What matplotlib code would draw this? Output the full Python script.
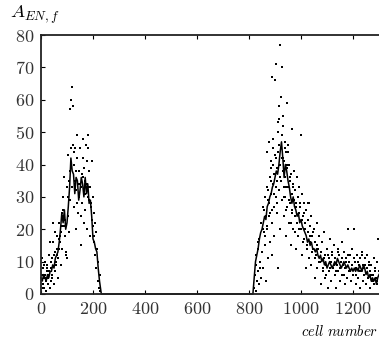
import matplotlib
matplotlib.use("Agg")
import matplotlib.pyplot as plt
import numpy as np

# running curve (cell number, amplitude)
line_x = [0, 5, 10, 15, 20, 25, 30, 35, 40, 45, 50, 55, 60, 65, 70, 75, 80, 85, 90, 95,
          100, 105, 110, 115, 120, 125, 130, 135, 140, 145, 150, 155, 160, 165, 170, 175,
          180, 185, 190, 195, 200, 205, 210, 215, 220, 225, 232,
          815, 820, 825, 830, 835, 840, 845, 850, 855, 860, 865, 870, 875, 880, 885, 890,
          895, 900, 905, 910, 915, 920, 925, 930, 935, 940, 945, 950, 955, 960, 965, 970,
          975, 980, 985, 990, 995, 1000, 1005, 1010, 1015, 1020, 1025, 1030, 1035, 1040,
          1045, 1050, 1055, 1060, 1065, 1070, 1075, 1080, 1085, 1090, 1095, 1100, 1105,
          1110, 1115, 1120, 1125, 1130, 1135, 1140, 1145, 1150, 1155, 1160, 1165, 1170,
          1175, 1180, 1185, 1190, 1195, 1200, 1205, 1210, 1215, 1220, 1225, 1230, 1235,
          1240, 1245, 1250, 1255, 1260, 1265, 1270, 1275, 1280, 1285, 1290, 1295, 1300]
line_y = [5, 4, 6, 5, 4, 6, 5, 7, 7, 9, 8, 11, 12, 13, 16, 20, 25, 22, 26, 20,
          22, 27, 33, 42, 38, 37, 31, 36, 35, 29, 32, 36, 34, 30, 36, 31,
          34, 28, 29, 24, 17, 16, 14, 13, 8, 4, 0,
          0, 5, 10, 12, 14, 17, 19, 20, 22, 24, 23, 27, 28, 30, 31, 33,
          34, 36, 38, 37, 40, 44, 47, 42, 36, 40, 38, 35, 33, 30, 28, 30,
          27, 26, 24, 25, 22, 23, 21, 20, 19, 18, 16, 17, 15, 16,
          14, 14, 13, 14, 12, 11, 12, 10, 11, 9, 10, 8, 9,
          10, 9, 8, 9, 10, 9, 11, 10, 9, 8, 9, 10, 9,
          8, 9, 8, 7, 8, 7, 8, 7, 8, 7, 9, 8, 7,
          9, 8, 6, 7, 5, 6, 4, 5, 4, 5, 3, 5, 6]

# single-cell values (dots)
dot_x = [2, 6, 8, 10, 12, 14, 16, 18, 20, 22, 24, 26, 28, 30, 32, 34, 35, 38, 40, 42,
         44, 46, 47, 50, 52, 54, 55, 58, 60, 63, 66, 68, 69, 70, 72, 75, 78, 80, 82, 83,
         85, 87, 90, 92, 95, 97, 99, 100, 102, 105, 107, 110, 111, 112, 114, 116, 118,
         120, 122, 124, 126, 128, 130, 131, 134, 136, 138, 140, 142, 145, 148, 150, 152,
         155, 158, 160, 162, 164, 166, 168, 170, 173, 175, 176, 178, 180, 182, 184, 186,
         188, 190, 192, 195, 197, 199, 200, 203, 205, 207, 210, 212, 215, 218, 220, 222,
         225, 228,
         4, 9, 13, 19, 23, 27, 31, 37, 43, 49, 57, 62, 67, 74, 79, 86, 93, 103, 109,
         117, 127, 133, 139, 147, 153, 157, 163, 171, 179, 185, 193, 202, 209,
         818, 822, 825, 828, 830, 833, 835, 838, 840, 842, 845, 847, 850, 852, 855, 857,
         860, 862, 864, 866, 868, 870, 871, 872, 874, 876, 878, 879, 880, 882, 883, 885,
         886, 888, 889, 890, 891, 893, 894, 895, 897, 898, 900, 902, 904, 905, 907, 908,
         910, 911, 912, 913, 914, 915, 917, 918, 919, 920, 921, 922, 924, 925, 927, 928,
         929, 931, 931, 932, 934, 935, 936, 937, 938, 940, 942, 943, 945, 946, 947, 949,
         950, 951, 953, 955, 956, 958, 960, 962, 964, 966, 967, 969, 970, 972, 974, 976,
         978, 980, 982, 984, 986, 988, 990, 992, 994, 996, 999, 1000, 1002, 1005, 1007,
         1010, 1012, 1015, 1018, 1020, 1022, 1025, 1028, 1030, 1031, 1033, 1036, 1038,
         1040, 1043, 1046, 1049, 1052, 1055, 1058, 1060, 1063, 1066, 1069, 1072, 1075,
         1078, 1081, 1084, 1087, 1090, 1093, 1096, 1099, 1102, 1105, 1108, 1111, 1114,
         1117, 1120, 1123, 1126, 1129, 1132, 1135, 1138, 1141, 1144, 1147, 1150, 1153,
         1156, 1159, 1162, 1165, 1168, 1171, 1174, 1177, 1180, 1183, 1186, 1189, 1192,
         1195, 1198, 1201, 1204, 1207, 1210, 1213, 1216, 1219, 1222, 1225, 1228, 1231,
         1234, 1237, 1240, 1243, 1246, 1249, 1252, 1255, 1258, 1261, 1264, 1267, 1270,
         1273, 1276, 1279, 1282, 1285, 1288, 1291, 1294, 1297, 1299,
         826, 836, 844, 853, 858, 863, 869, 873, 877, 884, 887, 892, 896, 899, 903, 906,
         909, 916, 923, 926, 933, 939, 941, 944, 948, 952, 957, 961, 965, 971, 975, 979,
         983, 987, 991, 995, 1003, 1008, 1013, 1017, 1024, 1027, 1034, 1041, 1047, 1054,
         1062, 1068, 1076, 1083, 1091, 1098, 1106, 1113, 1121, 1128, 1136, 1143, 1151,
         1158, 1166, 1173, 1181, 1188, 1196, 1203, 1211, 1218, 1226, 1233, 1241, 1248,
         1256, 1263, 1271, 1278, 1286, 1293]
dot_y = [11, 3, 8, 5, 2, 10, 6, 4, 1, 7, 9, 3, 5, 12, 6, 2, 16, 8, 4, 11,
         6, 16, 22, 3, 13, 19, 7, 10, 18, 12, 5, 14, 17, 22, 16, 9, 19, 25, 14, 24,
         30, 21, 36, 18, 13, 12, 11, 33, 24, 43, 19, 38, 57, 29, 60, 45, 64,
         33, 58, 46, 40, 27, 35, 45, 20, 32, 42, 49, 25, 38, 30, 45, 15,
         33, 28, 48, 36, 22, 39, 31, 26, 46, 34, 41, 20, 45, 49, 29, 38,
         18, 33, 27, 23, 41, 30, 21, 16, 25, 12, 19, 8, 14, 4, 10, 2,
         6, 1,
         6, 2, 9, 5, 8, 3, 7, 10, 5, 12, 9, 14, 11, 18, 21, 26, 23, 30, 35,
         40, 44, 38, 28, 34, 24, 37, 42, 35, 30, 33, 28, 18, 22,
         2, 6, 1, 9, 4, 14, 7, 3, 17, 10, 5, 22, 13, 27, 8, 19,
         30, 15, 24, 4, 33, 20, 44, 11, 29, 28, 47, 36, 16, 25, 41, 39,
         31, 67, 12, 22, 45, 34, 48, 27, 37, 18, 66, 30, 42, 71, 25, 35,
         53, 8, 44, 50, 58, 32, 54, 40, 77, 20, 36, 45, 61, 29, 49, 70,
         38, 52, 55, 42, 33, 41, 24, 47, 36, 30, 44, 18, 39, 59, 27, 46,
         44, 33, 22, 40, 35, 28, 37, 15, 31, 26, 51, 34, 20, 29, 38, 24,
         32, 14, 27, 36, 22, 30, 18, 33, 25, 28, 49, 20, 31, 12, 24,
         28, 17, 22, 8, 26, 15, 19, 28, 11, 28, 21, 16, 24,
         9, 18, 14, 20, 5, 16, 12, 22, 8, 14, 18, 10, 3,
         13, 16, 7, 11, 19, 5, 9, 14, 2, 12, 7, 17, 10,
         4, 13, 8, 15, 6, 11, 2, 9, 14, 7, 12, 4, 10,
         16, 6, 9, 13, 3, 8, 11, 5, 20, 10, 7, 12, 4,
         9, 14, 6, 20, 10, 3, 8, 12, 5, 9, 11, 2, 7,
         13, 4, 9, 6, 11, 3, 8, 12, 5, 10, 2, 7, 9,
         4, 6, 11, 3, 8, 5, 10, 4, 17, 7,
         12, 16, 8, 20, 26, 18, 21, 32, 24, 35, 26, 40, 31, 43, 33, 28,
         39, 46, 35, 42, 30, 45, 33, 26, 40, 29, 36, 22, 25, 33, 19, 28,
         22, 30, 20, 27, 23, 16, 25, 20, 14, 23, 18, 13, 19, 11,
         15, 10, 13, 8, 12, 6, 11, 8, 12, 9, 7, 13, 8,
         11, 6, 10, 12, 7, 9, 11, 6, 10, 7, 12, 8, 9,
         5, 9, 6, 4, 7, 3]

plt.rcParams['font.family'] = 'serif'
plt.rcParams['font.serif'] = ['cmr10', 'DejaVu Serif']
plt.rcParams['mathtext.fontset'] = 'cm'
plt.rcParams['axes.formatter.use_mathtext'] = True

fig = plt.figure(figsize=(3.79, 3.43), dpi=100)
ax = fig.add_axes([41 / 379, 1 - 294 / 343, 338 / 379, 259 / 343])

ax.plot(dot_x, dot_y, linestyle='none', marker='s', markersize=1.6,
        color='black', markeredgewidth=0, clip_on=False)
ax.plot(line_x, line_y, color='black', linewidth=1.1, clip_on=False)

ax.set_xlim(0, 1300)
ax.set_ylim(0, 80)
ax.set_xticks([0, 200, 400, 600, 800, 1000, 1200])
ax.set_yticks([0, 10, 20, 30, 40, 50, 60, 70, 80])
ax.tick_params(direction='in', length=3, width=0.8, labelsize=13,
               top=True, right=False, pad=5, colors='black', labelcolor='#333333')
for side in ['left', 'top', 'bottom']:
    ax.spines[side].set_linewidth(1.3)
    ax.spines[side].set_color('#222222')
ax.spines['right'].set_visible(False)

fig.text(10 / 379, 1 - 15 / 343, r'$A_{EN,f}$', fontsize=13.5, va='center', ha='left')
fig.text(378 / 379, 1 - 332 / 343, r'$cell\ number$', fontsize=10.5, va='center', ha='right')

fig.savefig('out.png', dpi=100)
